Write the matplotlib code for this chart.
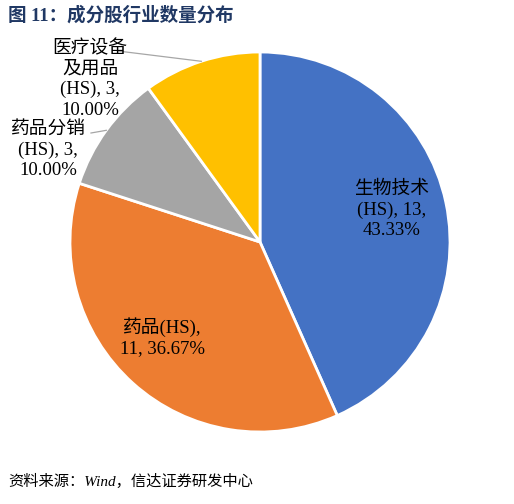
import matplotlib.pyplot as plt
import numpy as np

plt.rcParams['font.family'] = ['Liberation Serif', 'Noto Sans CJK SC']

# data
counts = [13, 11, 3, 3]
colors = ['#4472C4', '#ED7D31', '#A5A5A5', '#FFC000']
label_text = ['生物技术\n(HS), 13,\n43.33%', '药品(HS),\n11, 36.67%',
              '药品分销\n(HS), 3,\n10.00%', '医疗设备\n及用品\n(HS), 3,\n10.00%']

W, H = 514, 504
fig = plt.figure(figsize=(W / 100, H / 100), dpi=100)

# pie centre (260, 242) px, radius 190 px
cx, cy, r = 260, 242, 190
ax = fig.add_axes([(cx - r) / W, (H - cy - r) / H, 2 * r / W, 2 * r / H])
ax.pie(counts, colors=colors, startangle=90, counterclock=False, radius=1,
       wedgeprops=dict(edgecolor='white', linewidth=2))
ax.set_xlim(-1, 1)
ax.set_ylim(-1, 1)
ax.set_aspect('equal')
ax.axis('off')


def px2d(px, py):
    return (px - cx) / r, (cy - py) / r


# label positions in pixels
label_pos = [(392, 210), (162, 337), (48, 150), (90, 79)]
for txt, pos in zip(label_text, label_pos):
    x, y = px2d(*pos)
    ax.text(x, y, txt, ha='center', va='center', fontsize=13.5,
            linespacing=1.27, clip_on=False)

# leader lines for the small slices
total = sum(counts)
start = 90.0
mids = []
for c in counts:
    mids.append(np.deg2rad(start - 360 * c / total / 2))
    start -= 360 * c / total
leader_start = {2: (91, 133), 3: (118, 51)}
for i, p in leader_start.items():
    x0, y0 = px2d(*p)
    ax.plot([x0, np.cos(mids[i])], [y0, np.sin(mids[i])],
            color='#A6A6A6', lw=0.9, clip_on=False)

fig.text(8 / W, 1 - 15 / H, '图 11：成分股行业数量分布', fontsize=13.3,
         fontweight='bold', color='#203864', va='center', ha='left')
fig.text(8 / W, 1 - 481 / H, '资料来源：Wind，信达证券研发中心', fontsize=11,
         style='italic', va='center', ha='left')

fig.savefig('out.png', dpi=100)
